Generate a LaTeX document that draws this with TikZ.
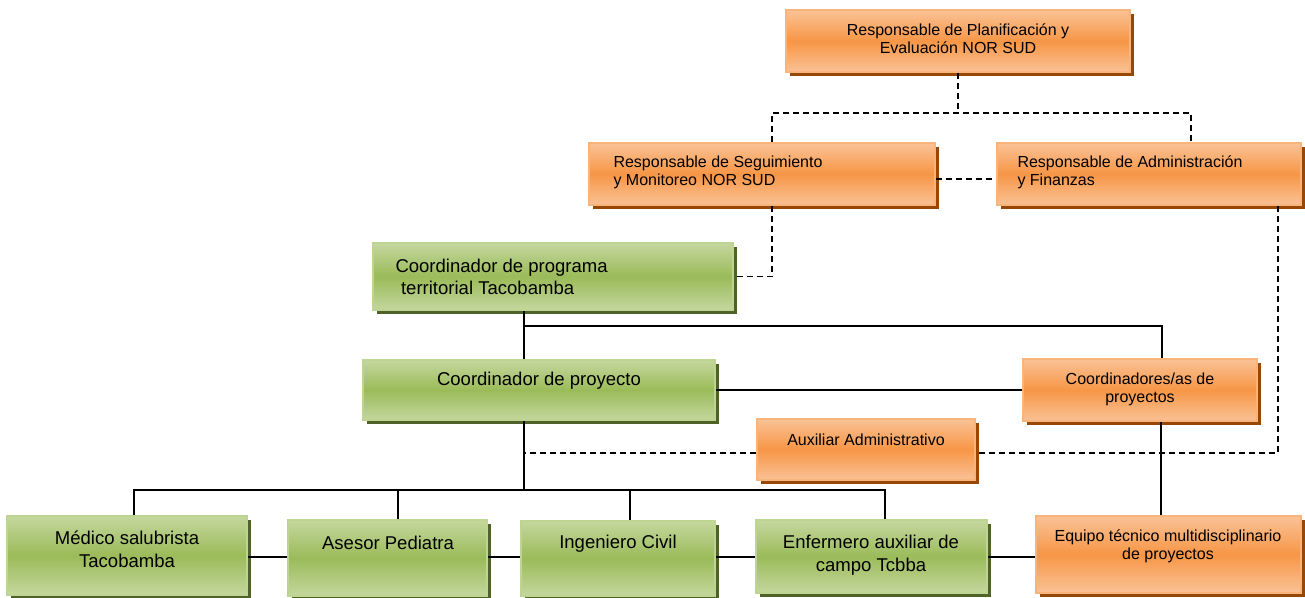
\documentclass[tikz,border=0pt]{standalone}
\usepackage{fontspec}
\setmainfont{Liberation Sans}
\usetikzlibrary{shadows,fit}

\definecolor{orgmid}{RGB}{247,150,70}
\definecolor{orglight}{RGB}{250,194,150}
\definecolor{orgline}{RGB}{249,180,124}
\definecolor{orgshadow}{RGB}{152,72,6}
\definecolor{grnmid}{RGB}{155,187,89}
\definecolor{grnlight}{RGB}{196,215,158}
\definecolor{grnline}{RGB}{190,212,146}
\definecolor{grnshadow}{RGB}{79,98,40}

\tikzset{every picture/.style={line width=0.75pt}}
\tikzset{
  obox/.style={draw=orgline, line width=1.5pt, inner sep=0pt,
    top color=orglight, bottom color=orglight, middle color=orgmid,
    drop shadow={shadow xshift=3pt, shadow yshift=-3pt, fill=orgshadow, opacity=1}},
  gbox/.style={draw=grnline, line width=1.5pt, inner sep=0pt,
    top color=grnlight, bottom color=grnlight, middle color=grnmid,
    drop shadow={shadow xshift=3pt, shadow yshift=-3pt, fill=grnshadow, opacity=1}},
  otxt/.style={font=\fontsize{12}{13.5}\selectfont, inner sep=0pt, align=center},
  gtxt/.style={font=\fontsize{13.9}{17}\selectfont, inner sep=0pt, align=center},
  dline/.style={line width=1.1pt, dash pattern={on 4.5pt off 3pt}},
  sline/.style={line width=1.1pt},
}

\begin{document}
\begin{tikzpicture}[x=0.75pt,y=0.75pt,yscale=-1,xscale=1]
	\useasboundingbox (0,0) rectangle (1305,598);
	
	%Shape: Rectangle [orange]
	\node[obox, fit={(786,10) (1130,72)}] (planif) {};
	\node[obox, fit={(589,143) (935,205)}] (segui) {};
	\node[obox, fit={(997,143) (1301,205)}] (admin) {};
	\node[obox, fit={(1023,359) (1257,421)}] (coords) {};
	\node[obox, fit={(757,419) (975,480)}] (auxil) {};
	\node[obox, fit={(1036,516) (1301,593)}] (equipo) {};
	%Shape: Rectangle [green]
	\node[gbox, fit={(373,243) (733,310)}] (coordprog) {};
	\node[gbox, fit={(363,360) (715,420)}] (coordproy) {};
	\node[gbox, fit={(7,516) (247,595)}] (medico) {};
	\node[gbox, fit={(288,520) (487,596)}] (asesor) {};
	\node[gbox, fit={(521,521) (715,596)}] (ingen) {};
	\node[gbox, fit={(756,520) (987,593)}] (enferm) {};
	
	%Joints
	\coordinate (jA) at (772,113);
	\coordinate (jB) at (1191,113);
	\coordinate (jS) at (0,179);
	\coordinate (jC) at (1278,453);
	\coordinate (jX) at (524,326);
	\coordinate (jY) at (1162,326);
	\coordinate (jZ) at (524,490);
	\coordinate (dM) at (134,490);
	\coordinate (dA) at (398,490);
	\coordinate (dI) at (630,490);
	\coordinate (dE) at (885,490);
	\coordinate (dQ) at (1161,0);
	\coordinate (hb) at (0,557);
	
	%Dashed Lines
	\draw[dline] (planif.south) -- (planif.south |- jA);
	\draw[dline] (segui.north -| jA) -- (jA) -- (jB) -- (admin.north -| jB);
	\draw[dline] (segui.east |- jS) -- (admin.west |- jS);
	\draw[dline] (segui.south -| jA) |- (coordprog.east);
	\draw[dline] (admin.south -| jC) -- (jC) -- (jC -| auxil.east);
	\draw[dline] (auxil.west |- jC) -- (jZ |- jC);
	
	%Straight Lines
	\draw[sline] (coordprog.south -| jX) -- (coordproy.north -| jX);
	\draw[sline] (jX) -- (jY) -- (coords.north -| jY);
	\draw[sline] (coordproy.east) -- (coords.west);
	\draw[sline] (coordproy.south -| jZ) -- (jZ);
	\draw[sline] (medico.north -| dM) -- (dM) -- (dE) -- (enferm.north -| dE);
	\draw[sline] (dA) -- (asesor.north -| dA);
	\draw[sline] (dI) -- (ingen.north -| dI);
	\draw[sline] (coords.south -| dQ) -- (equipo.north -| dQ);
	\draw[sline] (medico.east |- hb) -- (asesor.west |- hb);
	\draw[sline] (asesor.east |- hb) -- (ingen.west |- hb);
	\draw[sline] (ingen.east |- hb) -- (enferm.west |- hb);
	\draw[sline] (enferm.east |- hb) -- (equipo.west |- hb);
	
	% Text Node
	\node[otxt] (planif-t) at (958,39) {Responsable de Planificación y\\Evaluación NOR SUD};
	% Text Node
	\node[otxt, align=left, anchor=west] (segui-t) at (613,172) {Responsable de Seguimiento\\y Monitoreo NOR SUD};
	% Text Node
	\node[otxt, align=left, anchor=west] (admin-t) at (1017,172) {Responsable de Administración\\y Finanzas};
	% Text Node
	\node[gtxt, align=left, anchor=west] (coordprog-t) at (395,277) {Coordinador de programa\\\hspace*{0.3em}territorial Tacobamba};
	% Text Node
	\node[gtxt] (coordproy-t) at (539,381) {Coordinador de proyecto};
	% Text Node
	\node[otxt] (coords-t) at (1140,389) {Coordinadores/as de\\proyectos};
	% Text Node
	\node[otxt] (auxil-t) at (866,440) {Auxiliar Administrativo};
	% Text Node
	\node[gtxt] (medico-t) at (127,549) {Médico salubrista\\Tacobamba};
	% Text Node
	\node[gtxt] (asesor-t) at (388,543) {Asesor Pediatra};
	% Text Node
	\node[gtxt] (ingen-t) at (618,544) {Ingeniero Civil};
	% Text Node
	\node[gtxt] (enferm-t) at (871,555) {Enfermero auxiliar de\\campo Tcbba};
	% Text Node
	\node[otxt] (equipo-t) at (1168,546) {Equipo técnico multidisciplinario\\de proyectos};
	
\end{tikzpicture}
\end{document}
